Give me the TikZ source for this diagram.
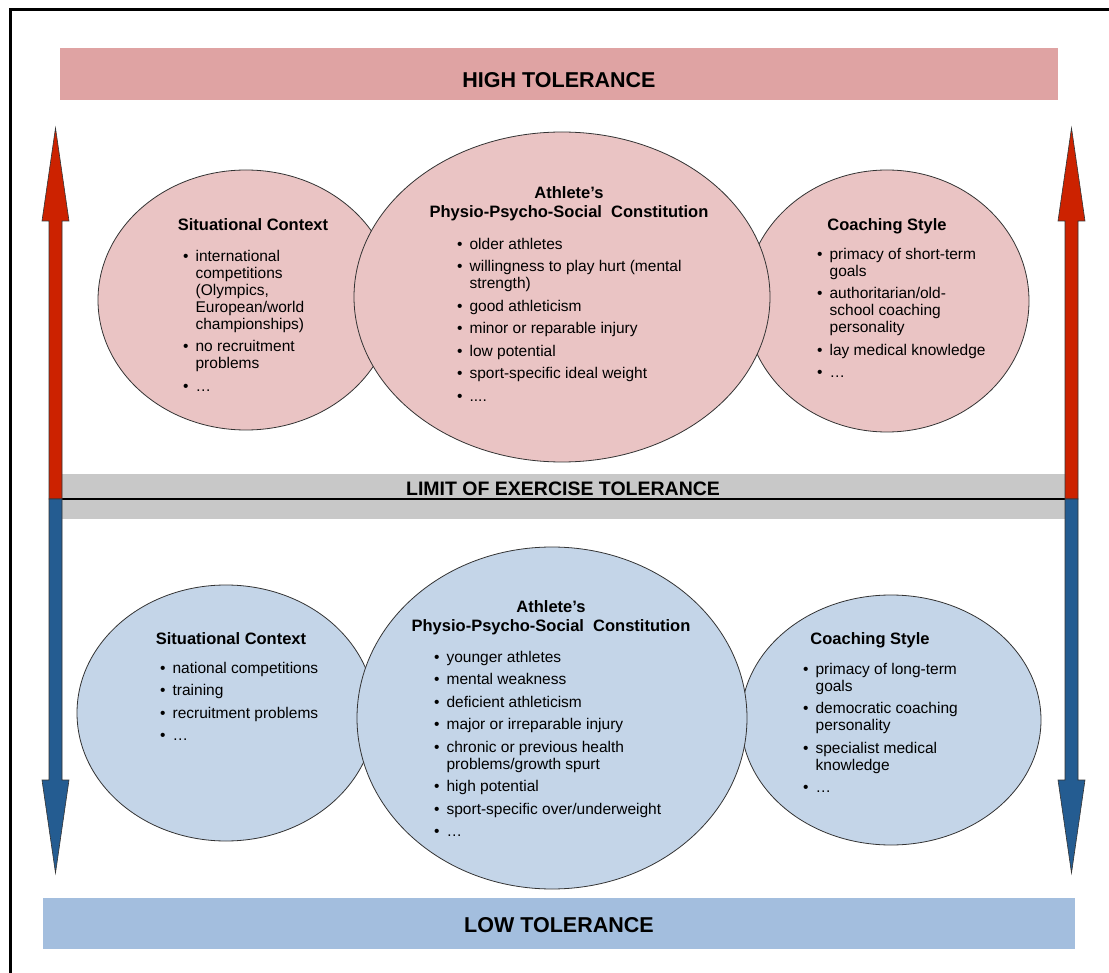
\documentclass[tikz,border=0pt]{standalone}
\usepackage{fontspec}
\setmainfont{Liberation Sans}
\usetikzlibrary{shapes.geometric}

\definecolor{highbar}{HTML}{DFA3A3}
\definecolor{highfill}{HTML}{EAC4C4}
\definecolor{lowbar}{HTML}{A3BEDE}
\definecolor{lowfill}{HTML}{C4D5E8}
\definecolor{limitgray}{HTML}{C8C8C8}
\definecolor{upred}{HTML}{CC2200}
\definecolor{downblue}{HTML}{245C91}

\newcommand{\itm}{\textbullet\hspace{7pt}}
\newcommand{\cnt}{\phantom{\textbullet}\hspace{7pt}}

\begin{document}
\begin{tikzpicture}[x=1pt,y=-1pt,
  bar/.style={draw=none,inner sep=0pt},
  bartext/.style={font=\fontsize{21.5}{24}\selectfont\bfseries},
  oval/.style={ellipse,draw=black!80,line width=0.8pt,inner sep=0pt},
  title/.style={font=\fontsize{16.5}{19}\selectfont\bfseries,align=center,inner sep=0pt},
  list/.style={font=\fontsize{15.5}{17}\selectfont,align=left,inner sep=0pt,anchor=north west}]
\useasboundingbox (0,0) rectangle (1109,973);
\fill[white] (0,0) rectangle (1109,973);
\draw[line width=3pt] (10.5,10) rectangle (1125,990);

% bars
\node[bar,fill=highbar,minimum width=998pt,minimum height=52pt] (high) at (559,74) {};
\node[bartext] (hight) at (559,80) {HIGH TOLERANCE};
\node[bar,fill=lowbar,minimum width=1032pt,minimum height=51pt] (low) at (559,923.5) {};
\node[bartext] (lowt) at (559,925) {LOW TOLERANCE};
\node[bar,fill=limitgray,minimum width=1003pt,minimum height=45pt] (limit) at (563.5,496.5) {};
\node[bartext,font=\fontsize{19.5}{22}\selectfont\bfseries] (limitt) at (563,489) {LIMIT OF EXERCISE TOLERANCE};
\draw[line width=2.2pt] (55.5,499) -- (1071.5,499);

% up and down arrows
\foreach \x in {55.5,1071.5} {
  \filldraw[fill=upred,draw=black!80,line width=0.6pt]
    (\x,128) -- (\x+13.5,221) -- (\x+6.5,221) -- (\x+6.5,499)
    -- (\x-6.5,499) -- (\x-6.5,221) -- (\x-13.5,221) -- cycle;
  \filldraw[fill=downblue,draw=black!80,line width=0.6pt]
    (\x,873) -- (\x+13.5,780) -- (\x+6.5,780) -- (\x+6.5,499)
    -- (\x-6.5,499) -- (\x-6.5,780) -- (\x-13.5,780) -- cycle;
}

% high tolerance
\node[oval,fill=highfill,minimum width=296pt,minimum height=260pt] (sitH) at (246,300) {};
\node[oval,fill=highfill,minimum width=284pt,minimum height=262pt] (coachH) at (887,301) {};
\node[oval,fill=highfill,minimum width=416pt,minimum height=330pt] (physH) at (562,297) {};

\node[title] (sitHt) at (253,225) {Situational Context};
\node[list] (sitHl) at (183,250) {\itm international\\ \cnt competitions\\ \cnt (Olympics,\\ \cnt European/world\\ \cnt championships)\\[5.5pt]
  \itm no recruitment\\ \cnt problems\\[5.5pt] \itm \ldots};

\node[title] (physHt) at (569,204) {Athlete’s\\Physio-Psycho-Social\ \ Constitution};
\node[list] (physHl) at (457,238) {\itm older athletes\\[5.5pt] \itm willingness to play hurt (mental\\ \cnt strength)\\[5.5pt]
  \itm good athleticism\\[5.5pt] \itm minor or reparable injury\\[5.5pt] \itm low potential\\[5.5pt]
  \itm sport-specific ideal weight\\[5.5pt] \itm ....};

\node[title] (coachHt) at (887,226) {Coaching Style};
\node[list] (coachHl) at (817,248) {\itm primacy of short-term\\ \cnt goals\\[5.5pt] \itm authoritarian/old-\\ \cnt school coaching\\ \cnt personality\\[5.5pt]
  \itm lay medical knowledge\\[5.5pt] \itm \ldots};

% low tolerance
\node[oval,fill=lowfill,minimum width=298pt,minimum height=256pt] (sitL) at (226,713) {};
\node[oval,fill=lowfill,minimum width=300pt,minimum height=250pt] (coachL) at (891,720) {};
\node[oval,fill=lowfill,minimum width=390pt,minimum height=342pt] (physL) at (552,718) {};

\node[title] (sitLt) at (231,639) {Situational Context};
\node[list] (sitLl) at (160,662) {\itm national competitions\\[5.5pt] \itm training\\[5.5pt] \itm recruitment problems\\[5.5pt] \itm \ldots};

\node[title] (physLt) at (551,618) {Athlete’s\\Physio-Psycho-Social\ \ Constitution};
\node[list] (physLl) at (434,651) {\itm younger athletes\\[5.5pt] \itm mental weakness\\[5.5pt] \itm deficient athleticism\\[5.5pt]
  \itm major or irreparable injury\\[5.5pt] \itm chronic or previous health\\ \cnt problems/growth spurt\\[5.5pt]
  \itm high potential\\[5.5pt] \itm sport-specific over/underweight\\[5.5pt] \itm \ldots};

\node[title] (coachLt) at (870,640) {Coaching Style};
\node[list] (coachLl) at (803,663) {\itm primacy of long-term\\ \cnt goals\\[5.5pt] \itm democratic coaching\\ \cnt personality\\[5.5pt]
  \itm specialist medical\\ \cnt knowledge\\[5.5pt] \itm \ldots};
\end{tikzpicture}
\end{document}
